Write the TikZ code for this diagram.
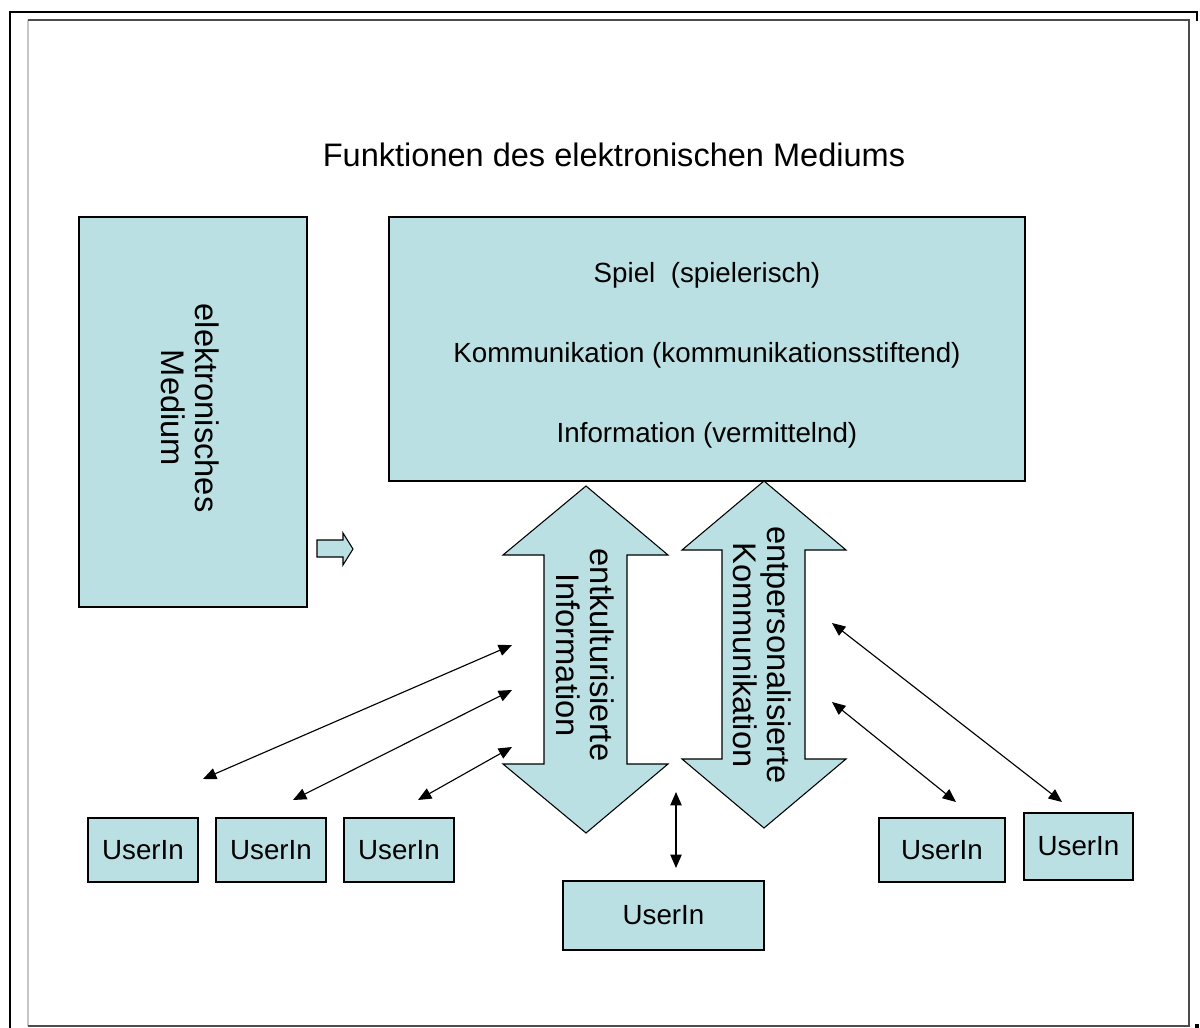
\documentclass[tikz,border=0pt]{standalone}
\usepackage{fontspec}
\setmainfont{Liberation Sans}
\usetikzlibrary{arrows.meta}
\definecolor{fillc}{RGB}{187,224,227}
\begin{document}
\begin{tikzpicture}[x=0.75pt,y=-0.75pt,
  box/.style={draw=black, line width=0.8pt, fill=fillc, inner sep=0pt, anchor=center},
  userbox/.style={box, font=\fontsize{20.8}{24}\selectfont},
  lbl/.style={font=\fontsize{20.8}{24}\selectfont, inner sep=0pt, anchor=base},
  rot/.style={rotate=-90, align=center, font=\fontsize{24.5}{25.5}\selectfont, inner sep=0pt},
  blockarrow/.style={draw=black, line width=0.8pt, fill=fillc, line join=miter},
  link/.style={{Triangle[length=10pt,width=8.5pt]}-{Triangle[length=10pt,width=8.5pt]}, line width=0.85pt}]
\useasboundingbox (0,0) rectangle (1200,1028);
% outer frame
\draw[line width=1.9pt, line cap=butt] (10,1028) -- (10,12) -- (1197,12) -- (1197,21);
\fill[black] (1195,1024) rectangle (1199,1028);
% inner page frame
\draw[line width=1.5pt, gray!45] (28,1026) -- (28,20);
\draw[line width=1.2pt, black!70] (28,20) -- (1189,20) -- (1189,1026) -- (28,1026);
% title
\node[font=\fontsize{24.4}{28}\selectfont, inner sep=0pt, anchor=base] (title) at (614,166) {Funktionen des elektronischen Mediums};
% left box
\node[box, minimum width=171pt, minimum height=292.5pt] (medium) at (193,412) {};
\node[rot] (mediumtxt) at (190,408) {elektronisches\\Medium};
% small block arrow
\draw[blockarrow] (317,540) -- (343,540) -- (343,533) -- (353,549) -- (343,565) -- (343,557) -- (317,557) -- cycle;
% big box
\node[box, minimum width=477pt, minimum height=198pt] (func) at (707,349) {};
\node[lbl] (f1) at (707,282) {Spiel\ \ (spielerisch)};
\node[lbl] (f2) at (707,362) {Kommunikation (kommunikationsstiftend)};
\node[lbl] (f3) at (707,442) {Information (vermittelnd)};
% double arrows
\draw[blockarrow] (586,486) -- (668,555) -- (627,555) -- (627,764) -- (668,764) -- (586,833) -- (503,764) -- (544,764) -- (544,555) -- (503,555) -- cycle;
\node[rot] (infotxt) at (585,655) {entkulturisierte\\Information};
\draw[blockarrow] (764,481) -- (846,550) -- (805,550) -- (805,759) -- (846,759) -- (764,828) -- (682,759) -- (722,759) -- (722,550) -- (682,550) -- cycle;
\node[rot] (kommtxt) at (762,655) {entpersonalisierte\\Kommunikation};
% user boxes
\node[userbox, minimum width=82.5pt, minimum height=48pt] (u1) at (143,850) {UserIn};
\node[userbox, minimum width=82.5pt, minimum height=48pt] (u2) at (271,850) {UserIn};
\node[userbox, minimum width=82.5pt, minimum height=48pt] (u3) at (399,850) {UserIn};
\node[userbox, minimum width=150.75pt, minimum height=51.75pt] (u4) at (663.5,915.5) {UserIn};
\node[userbox, minimum width=94.5pt, minimum height=48pt] (u5) at (942,850) {UserIn};
\node[userbox, minimum width=81.75pt, minimum height=50.25pt] (u6) at (1078.5,846.5) {UserIn};
% connector end points
\coordinate (l1a) at (203,779); \coordinate (l1b) at (512,645);
\coordinate (l2a) at (293,800); \coordinate (l2b) at (512,690);
\coordinate (l3a) at (418,800); \coordinate (l3b) at (512,747);
\coordinate (mca) at (676,868); \coordinate (mcb) at (676,792);
\coordinate (r1a) at (832,623); \coordinate (r1b) at (1062,802);
\coordinate (r2a) at (832,702); \coordinate (r2b) at (956,802);
\draw[link] (l1a) -- (l1b);
\draw[link] (l2a) -- (l2b);
\draw[link] (l3a) -- (l3b);
\draw[link] (mca) -- (mcb);
\draw[link] (r1a) -- (r1b);
\draw[link] (r2a) -- (r2b);
\end{tikzpicture}
\end{document}
